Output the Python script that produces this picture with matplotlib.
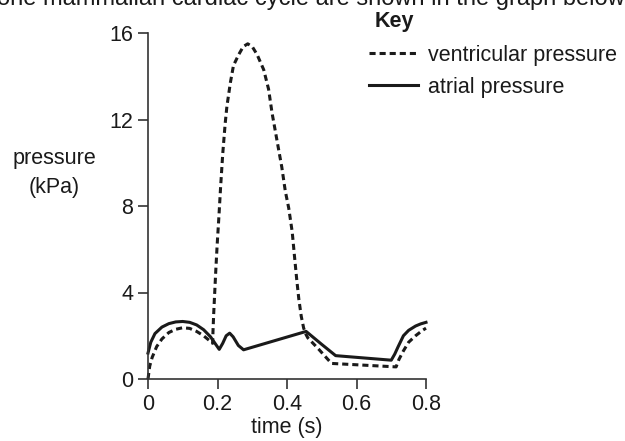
import matplotlib
matplotlib.use("Agg")
import matplotlib.pyplot as plt

plt.rcParams['font.family'] = ['Liberation Sans', 'DejaVu Sans']

# Pressure in the left side of the heart over one cardiac cycle
atrial_time = [0.0, 0.008, 0.02, 0.04, 0.06, 0.08, 0.10, 0.12, 0.14, 0.16, 0.18,
               0.195, 0.205, 0.215, 0.225, 0.235, 0.245, 0.26, 0.275, 0.455,
               0.50, 0.54, 0.70, 0.71, 0.72, 0.735, 0.75, 0.77, 0.785, 0.80]
atrial_kpa = [1.2, 1.7, 2.1, 2.4, 2.56, 2.64, 2.66, 2.62, 2.5, 2.28, 1.95,
              1.6, 1.37, 1.65, 2.0, 2.12, 1.95, 1.55, 1.35, 2.2,
              1.6, 1.08, 0.87, 1.15, 1.5, 2.0, 2.25, 2.45, 2.55, 2.62]

ventricular_time = [0.0, 0.005, 0.012, 0.025, 0.04, 0.06, 0.08, 0.10, 0.12, 0.14,
                    0.16, 0.175, 0.186, 0.187, 0.189, 0.192, 0.195, 0.199, 0.204,
                    0.209, 0.215, 0.222, 0.227, 0.237, 0.246, 0.261, 0.274, 0.287,
                    0.30, 0.314, 0.333, 0.347, 0.357, 0.366, 0.376, 0.385, 0.395,
                    0.405, 0.415, 0.422, 0.428, 0.434, 0.441, 0.448, 0.455, 0.46,
                    0.49, 0.528, 0.714, 0.722, 0.735, 0.75, 0.77, 0.79, 0.80]
ventricular_kpa = [0.0, 0.6, 1.0, 1.5, 1.85, 2.15, 2.3, 2.37, 2.34, 2.2,
                   2.0, 1.8, 1.65, 2.2, 3.0, 4.0, 5.0, 6.2, 7.5,
                   8.9, 10.4, 11.8, 12.6, 13.7, 14.5, 15.0, 15.37, 15.5,
                   15.37, 15.0, 14.3, 13.4, 12.3, 11.5, 10.6, 9.8, 8.7,
                   7.9, 6.8, 5.6, 4.6, 3.7, 2.9, 2.35, 2.05, 1.9,
                   1.4, 0.72, 0.56, 0.9, 1.3, 1.7, 2.0, 2.25, 2.35]

x_ticks = [0, 0.2, 0.4, 0.6, 0.8]
x_tick_labels = ['0', '0.2', '0.4', '0.6', '0.8']
y_ticks = [0, 4, 8, 12, 16]
y_tick_labels = ['0', '4', '8', '12', '16']

FS = 15.5
INK = '#1a1a1a'
SPINE = '#333333'
W, H = 625, 441

fig = plt.figure(figsize=(6.25, 4.41), dpi=100)
ax = fig.add_axes([148 / W, 62 / H, 278 / W, 346 / H])

ax.plot(ventricular_time, ventricular_kpa, color=INK, lw=2.2,
        linestyle=(0, (2.0, 1.3)), clip_on=False, label='ventricular pressure')
ax.plot(atrial_time, atrial_kpa, color=INK, lw=2.2, clip_on=False,
        label='atrial pressure')

ax.set_xlim(0, 0.8)
ax.set_ylim(0, 16)
ax.set_xticks(x_ticks)
ax.set_xticklabels(x_tick_labels)
ax.set_yticks(y_ticks)
ax.set_yticklabels(y_tick_labels)
for s in ('top', 'right'):
    ax.spines[s].set_visible(False)
for s in ('left', 'bottom'):
    ax.spines[s].set_color(SPINE)
    ax.spines[s].set_linewidth(1.2)
ax.tick_params(direction='out', length=7, width=1.2, color=SPINE,
               labelsize=FS, labelcolor=INK, pad=3.5)

ax.set_xlabel('time (s)', fontsize=FS, color=INK, labelpad=2)
fig.text(54 / W, 1 - 164 / H, 'pressure', ha='center', va='baseline',
         fontsize=FS, color=INK)
fig.text(54 / W, 1 - 193 / H, '(kPa)', ha='center', va='baseline',
         fontsize=FS, color=INK)

# Key
fig.text(375 / W, 1 - 27 / H, 'Key', ha='left', va='baseline',
         fontsize=FS, fontweight='bold', color=INK)
leg = ax.legend(loc='upper left', bbox_to_anchor=(369 / W, 1 - 45 / H),
                bbox_transform=fig.transFigure, frameon=False, fontsize=FS,
                handlelength=2.28, handletextpad=0.47, labelspacing=0.5,
                borderaxespad=0, borderpad=0)
for t in leg.get_texts():
    t.set_color(INK)

fig.text(-3 / W, 1 - 5 / H,
         'one mammalian cardiac cycle are shown in the graph below.',
         ha='left', va='baseline', fontsize=17, color=INK)

fig.savefig('out.png', dpi=100)
